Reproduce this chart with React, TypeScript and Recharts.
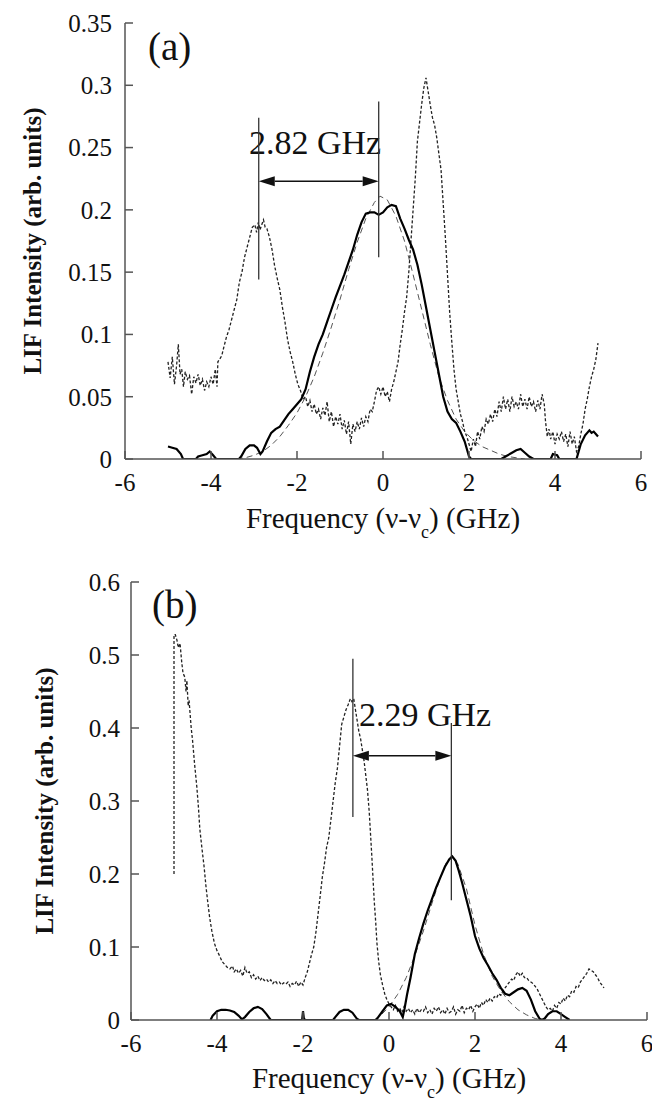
import React from 'react';
import { LineChart, Line, XAxis, YAxis, ReferenceLine, Customized } from 'recharts';

const FONT = 'Liberation Serif';

// ---------- ticks ----------
const xTicks = [-6, -4, -2, 0, 2, 4, 6];
const yTicksA = [0, 0.05, 0.1, 0.15, 0.2, 0.25, 0.3, 0.35];
const yTicksB = [0, 0.1, 0.2, 0.3, 0.4, 0.5, 0.6];

// ---------- panel (a) ----------
const dottedA: number[][] = [
  [-5.0,0.078],[-4.95,0.065],[-4.9,0.082],[-4.85,0.060],[-4.8,0.075],[-4.76,0.092],[-4.72,0.068],[-4.68,0.072],[-4.64,0.058],[-4.6,0.070],
  [-4.55,0.064],[-4.5,0.067],[-4.45,0.052],[-4.4,0.066],[-4.35,0.061],[-4.3,0.068],[-4.25,0.059],[-4.2,0.064],[-4.15,0.055],[-4.1,0.062],
  [-4.05,0.058],[-4.0,0.066],[-3.95,0.060],[-3.9,0.072],[-3.86,0.058],[-3.84,0.078],[-3.8,0.080],[-3.75,0.083],[-3.7,0.090],[-3.64,0.098],
  [-3.58,0.104],[-3.52,0.112],[-3.46,0.120],[-3.4,0.128],[-3.34,0.142],[-3.28,0.150],[-3.22,0.162],[-3.16,0.170],[-3.1,0.178],[-3.04,0.186],
  [-2.98,0.188],[-2.94,0.182],[-2.9,0.190],[-2.86,0.184],[-2.82,0.188],[-2.78,0.192],[-2.74,0.186],[-2.7,0.185],[-2.64,0.178],[-2.58,0.168],
  [-2.52,0.155],[-2.46,0.145],[-2.4,0.136],[-2.34,0.122],[-2.28,0.110],[-2.22,0.096],[-2.16,0.086],[-2.1,0.078],[-2.04,0.068],[-1.98,0.060],
  [-1.92,0.055],[-1.86,0.048],[-1.8,0.050],[-1.75,0.042],[-1.7,0.047],[-1.65,0.038],[-1.6,0.044],[-1.55,0.036],[-1.5,0.040],[-1.45,0.032],
  [-1.4,0.041],[-1.35,0.035],[-1.3,0.046],[-1.25,0.030],[-1.2,0.038],[-1.15,0.026],[-1.1,0.034],[-1.05,0.028],[-1.0,0.036],[-0.95,0.024],
  [-0.9,0.031],[-0.85,0.020],[-0.8,0.030],[-0.75,0.012],[-0.7,0.028],[-0.65,0.022],[-0.6,0.030],[-0.55,0.024],[-0.5,0.033],[-0.45,0.026],
  [-0.4,0.034],[-0.35,0.030],[-0.3,0.040],[-0.25,0.038],[-0.2,0.046],[-0.15,0.055],[-0.1,0.058],[-0.05,0.052],[0.0,0.058],[0.05,0.050],
  [0.1,0.054],[0.15,0.046],[0.2,0.056],[0.25,0.062],[0.3,0.070],[0.35,0.078],[0.4,0.092],[0.45,0.104],[0.5,0.118],[0.55,0.130],
  [0.6,0.150],[0.65,0.175],[0.7,0.200],[0.75,0.225],[0.8,0.255],[0.85,0.270],[0.9,0.285],[0.95,0.298],[1.0,0.306],[1.05,0.295],
  [1.1,0.284],[1.15,0.274],[1.2,0.268],[1.25,0.258],[1.3,0.245],[1.35,0.232],[1.4,0.205],[1.45,0.178],[1.5,0.148],[1.55,0.118],
  [1.6,0.094],[1.65,0.072],[1.7,0.056],[1.75,0.046],[1.8,0.036],[1.85,0.030],[1.9,0.022],[1.95,0.018],[2.0,0.012],[2.05,0.006],
  [2.1,0.016],[2.15,0.010],[2.2,0.022],[2.25,0.016],[2.3,0.026],[2.35,0.022],[2.4,0.032],[2.45,0.028],[2.5,0.036],[2.55,0.030],
  [2.6,0.040],[2.65,0.034],[2.7,0.046],[2.75,0.038],[2.8,0.050],[2.85,0.040],[2.9,0.048],[2.95,0.038],[3.0,0.050],[3.05,0.042],
  [3.1,0.046],[3.15,0.040],[3.2,0.052],[3.25,0.042],[3.3,0.048],[3.35,0.040],[3.4,0.050],[3.45,0.042],[3.5,0.046],[3.55,0.038],
  [3.6,0.047],[3.65,0.040],[3.7,0.052],[3.75,0.044],[3.78,0.030],[3.82,0.018],[3.86,0.024],[3.9,0.016],[3.95,0.022],[4.0,0.012],
  [4.05,0.020],[4.1,0.016],[4.15,0.022],[4.2,0.014],[4.25,0.020],[4.3,0.010],[4.35,0.022],[4.4,0.012],[4.45,0.018],[4.5,0.006],
  [4.55,0.010],[4.6,0.020],[4.65,0.028],[4.7,0.040],[4.75,0.048],[4.8,0.058],[4.85,0.066],[4.9,0.072],[4.95,0.080],[5.0,0.093],
];

const solidA: number[][] = [
  [-5.0,0.010],[-4.9,0.009],[-4.8,0.008],[-4.7,0.004],[-4.65,0],[-4.35,0],[-4.3,0.002],[-4.2,0.003],[-4.1,0.004],[-4.03,0.006],
  [-3.95,0.003],[-3.88,0],[-3.35,0],[-3.3,0.002],[-3.2,0.008],[-3.1,0.011],[-3.0,0.011],[-2.93,0.009],[-2.85,0.004],[-2.8,0.006],
  [-2.7,0.014],[-2.6,0.021],[-2.5,0.024],[-2.4,0.026],[-2.3,0.031],[-2.2,0.036],[-2.1,0.040],[-2.0,0.044],[-1.9,0.048],[-1.8,0.056],
  [-1.7,0.070],[-1.6,0.082],[-1.5,0.092],[-1.4,0.100],[-1.3,0.110],[-1.2,0.120],[-1.1,0.130],[-1.0,0.139],[-0.9,0.148],[-0.8,0.158],
  [-0.7,0.168],[-0.6,0.180],[-0.5,0.190],[-0.4,0.197],[-0.3,0.198],[-0.2,0.198],[-0.1,0.196],[0.0,0.198],[0.1,0.202],[0.2,0.204],
  [0.3,0.203],[0.4,0.193],[0.5,0.185],[0.6,0.176],[0.7,0.168],[0.8,0.156],[0.9,0.140],[1.0,0.122],[1.1,0.104],[1.2,0.086],
  [1.3,0.068],[1.4,0.050],[1.5,0.038],[1.6,0.032],[1.7,0.029],[1.8,0.022],[1.9,0.014],[1.95,0.008],[2.0,0.002],[2.05,0],
  [2.75,0],[2.85,0.002],[3.0,0.005],[3.1,0.007],[3.2,0.008],[3.3,0.005],[3.4,0.002],[3.5,0],[3.9,0],[3.95,0.004],
  [4.05,0.003],[4.1,0],[4.5,0],[4.55,0.006],[4.6,0.012],[4.7,0.019],[4.8,0.023],[4.85,0.021],[4.9,0.022],[5.0,0.018],
];

const fitA: number[][] = [
  [-3.4,0],[-3.2,0.001],[-3.0,0.003],[-2.8,0.006],[-2.6,0.011],[-2.4,0.018],[-2.2,0.027],[-2.0,0.037],[-1.8,0.050],[-1.6,0.066],
  [-1.4,0.085],[-1.2,0.106],[-1.0,0.128],[-0.8,0.152],[-0.6,0.174],[-0.4,0.193],[-0.2,0.206],[-0.07,0.211],[0.1,0.208],[0.3,0.195],
  [0.5,0.175],[0.7,0.148],[0.9,0.120],[1.1,0.092],[1.3,0.066],[1.5,0.047],[1.7,0.032],[1.9,0.022],[2.1,0.015],[2.3,0.010],
  [2.5,0.007],[2.7,0.004],[2.9,0.002],[3.1,0.001],[3.3,0],
];

const markersA = [
  { x: -2.89, y1: 0.144, y2: 0.274 },
  { x: -0.1, y1: 0.162, y2: 0.287 },
];
const arrowA = { x1: -2.89, x2: -0.1, y: 0.223 };

// ---------- panel (b) ----------
const dottedB: number[][] = [
  [-5.0,0.20],[-5.0,0.528],[-4.97,0.528],[-4.93,0.52],[-4.9,0.51],[-4.86,0.516],[-4.82,0.49],[-4.79,0.475],[-4.75,0.47],[-4.72,0.45],
  [-4.7,0.465],[-4.67,0.43],[-4.65,0.438],[-4.6,0.40],[-4.57,0.384],[-4.52,0.35],[-4.47,0.32],[-4.43,0.29],[-4.4,0.262],[-4.35,0.235],
  [-4.3,0.21],[-4.26,0.185],[-4.22,0.164],[-4.17,0.14],[-4.12,0.122],[-4.06,0.105],[-4.0,0.095],[-3.94,0.088],[-3.88,0.080],[-3.82,0.076],
  [-3.76,0.072],[-3.7,0.070],[-3.64,0.074],[-3.6,0.066],[-3.55,0.070],[-3.5,0.064],[-3.45,0.068],[-3.4,0.060],[-3.35,0.072],[-3.3,0.064],
  [-3.25,0.066],[-3.2,0.058],[-3.15,0.062],[-3.1,0.056],[-3.05,0.060],[-3.0,0.054],[-2.95,0.058],[-2.9,0.054],[-2.85,0.056],[-2.8,0.052],
  [-2.75,0.055],[-2.7,0.050],[-2.65,0.054],[-2.6,0.050],[-2.55,0.052],[-2.5,0.048],[-2.45,0.051],[-2.4,0.049],[-2.35,0.052],[-2.3,0.046],
  [-2.25,0.050],[-2.2,0.048],[-2.15,0.053],[-2.1,0.046],[-2.05,0.052],[-2.0,0.048],[-1.95,0.058],[-1.9,0.066],[-1.85,0.078],[-1.8,0.090],
  [-1.75,0.100],[-1.7,0.120],[-1.65,0.145],[-1.6,0.170],[-1.55,0.196],[-1.5,0.215],[-1.45,0.237],[-1.4,0.250],[-1.35,0.275],[-1.3,0.300],
  [-1.25,0.325],[-1.2,0.345],[-1.15,0.375],[-1.1,0.405],[-1.05,0.415],[-1.0,0.425],[-0.95,0.432],[-0.9,0.440],[-0.86,0.436],[-0.82,0.440],
  [-0.78,0.425],[-0.74,0.410],[-0.7,0.395],[-0.66,0.385],[-0.62,0.370],[-0.58,0.355],[-0.54,0.335],[-0.5,0.315],[-0.46,0.285],[-0.43,0.255],
  [-0.4,0.225],[-0.37,0.192],[-0.34,0.160],[-0.31,0.135],[-0.28,0.105],[-0.24,0.080],[-0.2,0.062],[-0.15,0.048],[-0.1,0.036],[-0.05,0.028],
  [0.0,0.022],[0.05,0.018],[0.1,0.014],[0.15,0.020],[0.2,0.012],[0.25,0.016],[0.3,0.010],[0.35,0.018],[0.4,0.012],[0.45,0.016],
  [0.5,0.010],[0.55,0.014],[0.6,0.008],[0.65,0.016],[0.7,0.010],[0.75,0.014],[0.8,0.012],[0.85,0.018],[0.9,0.010],[0.95,0.014],
  [1.0,0.008],[1.05,0.016],[1.1,0.012],[1.15,0.018],[1.2,0.010],[1.25,0.014],[1.3,0.008],[1.35,0.016],[1.4,0.010],[1.45,0.012],
  [1.5,0.018],[1.55,0.008],[1.6,0.014],[1.65,0.012],[1.7,0.020],[1.75,0.010],[1.8,0.016],[1.85,0.014],[1.9,0.020],[1.95,0.012],
  [2.0,0.018],[2.05,0.022],[2.1,0.016],[2.15,0.024],[2.2,0.020],[2.25,0.028],[2.3,0.024],[2.35,0.030],[2.4,0.026],[2.45,0.032],
  [2.5,0.030],[2.55,0.036],[2.6,0.034],[2.65,0.040],[2.7,0.044],[2.75,0.048],[2.8,0.052],[2.85,0.056],[2.9,0.054],[2.95,0.062],
  [3.0,0.066],[3.05,0.060],[3.1,0.064],[3.15,0.058],[3.2,0.058],[3.25,0.054],[3.3,0.052],[3.35,0.050],[3.4,0.046],[3.45,0.042],
  [3.5,0.036],[3.55,0.030],[3.6,0.024],[3.65,0.018],[3.7,0.014],[3.75,0.016],[3.8,0.012],[3.85,0.020],[3.9,0.016],[3.95,0.024],
  [4.0,0.022],[4.05,0.030],[4.1,0.026],[4.15,0.034],[4.2,0.032],[4.25,0.040],[4.3,0.038],[4.35,0.046],[4.4,0.044],[4.45,0.052],
  [4.5,0.056],[4.55,0.060],[4.6,0.064],[4.65,0.070],[4.7,0.068],[4.75,0.066],[4.8,0.062],[4.85,0.058],[4.9,0.052],[4.95,0.048],
  [5.0,0.044],
];

const solidB: number[][] = [
  [-4.15,0],[-4.1,0.006],[-4.0,0.012],[-3.9,0.014],[-3.8,0.014],[-3.7,0.013],[-3.6,0.011],[-3.5,0.006],[-3.42,0.001],[-3.35,0.004],
  [-3.25,0.011],[-3.15,0.016],[-3.05,0.018],[-2.95,0.015],[-2.85,0.008],[-2.75,0],[-2.02,0],[-2.0,0.012],[-1.98,0.002],[-1.95,0],
  [-1.3,0],[-1.25,0.004],[-1.15,0.011],[-1.05,0.014],[-0.95,0.014],[-0.85,0.010],[-0.75,0.002],[-0.7,0],[-0.3,0],[-0.25,0.004],
  [-0.15,0.012],[-0.05,0.020],[0.05,0.022],[0.15,0.018],[0.25,0.012],[0.32,0.004],[0.36,0.015],[0.42,0.035],[0.5,0.058],[0.6,0.090],
  [0.7,0.112],[0.8,0.132],[0.9,0.150],[1.0,0.166],[1.1,0.182],[1.2,0.196],[1.3,0.210],[1.4,0.220],[1.47,0.224],[1.55,0.218],
  [1.62,0.205],[1.7,0.188],[1.8,0.165],[1.9,0.142],[2.0,0.115],[2.1,0.098],[2.2,0.085],[2.3,0.075],[2.4,0.064],[2.5,0.055],
  [2.6,0.044],[2.7,0.036],[2.8,0.034],[2.9,0.038],[3.0,0.042],[3.1,0.044],[3.2,0.040],[3.3,0.028],[3.4,0.012],[3.5,0.002],
  [3.55,0],[3.62,0.002],[3.7,0.008],[3.8,0.012],[3.9,0.012],[4.0,0.008],[4.1,0.004],[4.2,0],
];

const fitB: number[][] = [
  [-0.35,0],[-0.2,0.006],[0,0.018],[0.2,0.035],[0.4,0.058],[0.6,0.088],[0.8,0.122],[1.0,0.160],[1.2,0.196],[1.35,0.218],
  [1.45,0.224],[1.6,0.214],[1.8,0.180],[2.0,0.130],[2.2,0.090],[2.4,0.060],[2.6,0.040],[2.8,0.025],[3.0,0.014],[3.2,0.007],
  [3.4,0.002],[3.6,0],
];

const markersB = [
  { x: -0.84, y1: 0.278, y2: 0.495 },
  { x: 1.45, y1: 0.164, y2: 0.407 },
];
const arrowB = { x1: -0.84, x2: 1.45, y: 0.362 };

const toPts = (arr: number[][]) => arr.map(([x, y]) => ({ x, y }));

const ArrowShape = (props: any) => {
  const { x1, y1, x2, y2 } = props;
  const l = Math.min(x1, x2);
  const r = Math.max(x1, x2);
  const hw = 16;
  const hh = 5;
  return (
    <g>
      <line x1={l + hw} y1={y1} x2={r - hw} y2={y2} stroke="#111" strokeWidth={1.4} />
      <polygon points={`${l},${y1} ${l + hw},${y1 - hh} ${l + hw},${y1 + hh}`} fill="#111" />
      <polygon points={`${r},${y2} ${r - hw},${y2 - hh} ${r - hw},${y2 + hh}`} fill="#111" />
    </g>
  );
};

type PanelProps = {
  top: number;
  height: number;
  marginTop: number;
  marginRight: number;
  yWidth: number;
  xHeight: number;
  yMax: number;
  yTicks: number[];
  yTickMargin: number;
  dotted: number[][];
  solid: number[][];
  fit: number[][];
  markers: { x: number; y1: number; y2: number }[];
  arrow: { x1: number; x2: number; y: number };
  tag: string;
  tagPos: [number, number];
  gapText: string;
  gapPos: [number, number];
  yTitleX: number;
  xTitleDy: number;
};

const AXIS_COLOR = '#555';
const serifStyle = { fontFamily: FONT };

function Panel(p: PanelProps) {
  const tickStyle = { fontFamily: FONT, fontSize: 25, fill: '#111', style: serifStyle };
  return (
    <div style={{ position: 'absolute', left: 0, top: p.top, width: 652, height: p.height }}>
      <LineChart
        width={652}
        height={p.height}
        margin={{ top: p.marginTop, right: p.marginRight, bottom: 0, left: 0 }}
        style={{ fontFamily: FONT }}
      >
        <XAxis
          dataKey="x"
          type="number"
          domain={[-6, 6]}
          ticks={xTicks}
          interval={0}
          allowDataOverflow
          height={p.xHeight}
          tickSize={-8}
          tickMargin={22}
          tick={tickStyle}
          tickLine={{ stroke: AXIS_COLOR, strokeWidth: 1.5 }}
          axisLine={{ stroke: AXIS_COLOR, strokeWidth: 1.5 }}
          label={(lp: any) => {
            const vb = lp.viewBox;
            const cx = vb.x + vb.width / 2;
            return (
              <text x={cx} y={vb.y + p.xTitleDy} textAnchor="middle" style={serifStyle} fontFamily={FONT} fontSize={29} fill="#111">
                Frequency (ν-ν<tspan fontSize={18} dy={10}>c</tspan>
                <tspan dy={-10}>) (GHz)</tspan>
              </text>
            );
          }}
        />
        <XAxis
          xAxisId="top"
          orientation="top"
          type="number"
          domain={[-6, 6]}
          ticks={xTicks}
          interval={0}
          height={0}
          tick={false}
          tickSize={-8}
          tickLine={{ stroke: AXIS_COLOR, strokeWidth: 1.5 }}
          axisLine={{ stroke: AXIS_COLOR, strokeWidth: 1.5 }}
        />
        <YAxis
          type="number"
          domain={[0, p.yMax]}
          ticks={p.yTicks}
          interval={0}
          allowDataOverflow
          width={p.yWidth}
          tickSize={-8}
          tickMargin={p.yTickMargin}
          tick={tickStyle}
          tickLine={{ stroke: AXIS_COLOR, strokeWidth: 1.5 }}
          axisLine={{ stroke: AXIS_COLOR, strokeWidth: 1.5 }}
          label={(lp: any) => {
            const vb = lp.viewBox;
            const cy = vb.y + vb.height / 2;
            return (
              <text
                x={p.yTitleX}
                y={cy}
                transform={`rotate(-90 ${p.yTitleX} ${cy})`}
                textAnchor="middle"
                dominantBaseline="central"
                style={serifStyle}
                fontFamily={FONT}
                fontWeight="bold"
                fontSize={25}
                fill="#111"
              >
                LIF Intensity (arb. units)
              </text>
            );
          }}
        />
        <YAxis
          yAxisId="right"
          orientation="right"
          type="number"
          domain={[0, p.yMax]}
          ticks={p.yTicks}
          interval={0}
          width={0}
          tick={false}
          tickSize={-8}
          tickLine={{ stroke: AXIS_COLOR, strokeWidth: 1.5 }}
          axisLine={{ stroke: AXIS_COLOR, strokeWidth: 1.5 }}
        />
        <Line
          data={toPts(p.fit)}
          dataKey="y"
          type="linear"
          stroke="#555"
          strokeWidth={1}
          strokeDasharray="6 4"
          dot={false}
          activeDot={false}
          isAnimationActive={false}
        />
        <Line
          data={toPts(p.dotted)}
          dataKey="y"
          type="linear"
          stroke="#222"
          strokeWidth={1.3}
          strokeDasharray="3 2"
          dot={false}
          activeDot={false}
          isAnimationActive={false}
        />
        <Line
          data={toPts(p.solid)}
          dataKey="y"
          type="linear"
          stroke="#000"
          strokeWidth={2.2}
          dot={false}
          activeDot={false}
          isAnimationActive={false}
        />
        {p.markers.map((m, i) => (
          <ReferenceLine
            key={`m${i}`}
            segment={[{ x: m.x, y: m.y1 }, { x: m.x, y: m.y2 }]}
            stroke="#333"
            strokeWidth={1.3}
            ifOverflow="visible"
          />
        ))}
        <ReferenceLine
          segment={[{ x: p.arrow.x1, y: p.arrow.y }, { x: p.arrow.x2, y: p.arrow.y }]}
          shape={ArrowShape}
          ifOverflow="visible"
        />
        <Customized
          component={() => (
            <g>
              <text x={p.tagPos[0]} y={p.tagPos[1]} style={serifStyle} fontFamily={FONT} fontSize={39} fill="#111">
                {p.tag}
              </text>
              <text x={p.gapPos[0]} y={p.gapPos[1]} style={serifStyle} fontFamily={FONT} fontSize={34} fill="#111">
                {p.gapText}
              </text>
            </g>
          )}
        />
      </LineChart>
    </div>
  );
}

export default function App() {
  return (
    <div style={{ position: 'absolute', left: 0, top: 0, width: 652, height: 1101, background: '#fff', fontFamily: FONT }}>
      <Panel
        top={0}
        height={560}
        marginTop={23}
        marginRight={11}
        yWidth={125}
        xHeight={101}
        yMax={0.35}
        yTicks={yTicksA}
        yTickMargin={21}
        dotted={dottedA}
        solid={solidA}
        fit={fitA}
        markers={markersA}
        arrow={arrowA}
        tag="(a)"
        tagPos={[148, 60]}
        gapText="2.82 GHz"
        gapPos={[249, 154]}
        yTitleX={32}
        xTitleDy={69}
      />
      <Panel
        top={560}
        height={541}
        marginTop={22}
        marginRight={5}
        yWidth={131}
        xHeight={81}
        yMax={0.6}
        yTicks={yTicksB}
        yTickMargin={19}
        dotted={dottedB}
        solid={solidB}
        fit={fitB}
        markers={markersB}
        arrow={arrowB}
        tag="(b)"
        tagPos={[152, 58]}
        gapText="2.29 GHz"
        gapPos={[359, 166]}
        yTitleX={44}
        xTitleDy={68}
      />
    </div>
  );
}
